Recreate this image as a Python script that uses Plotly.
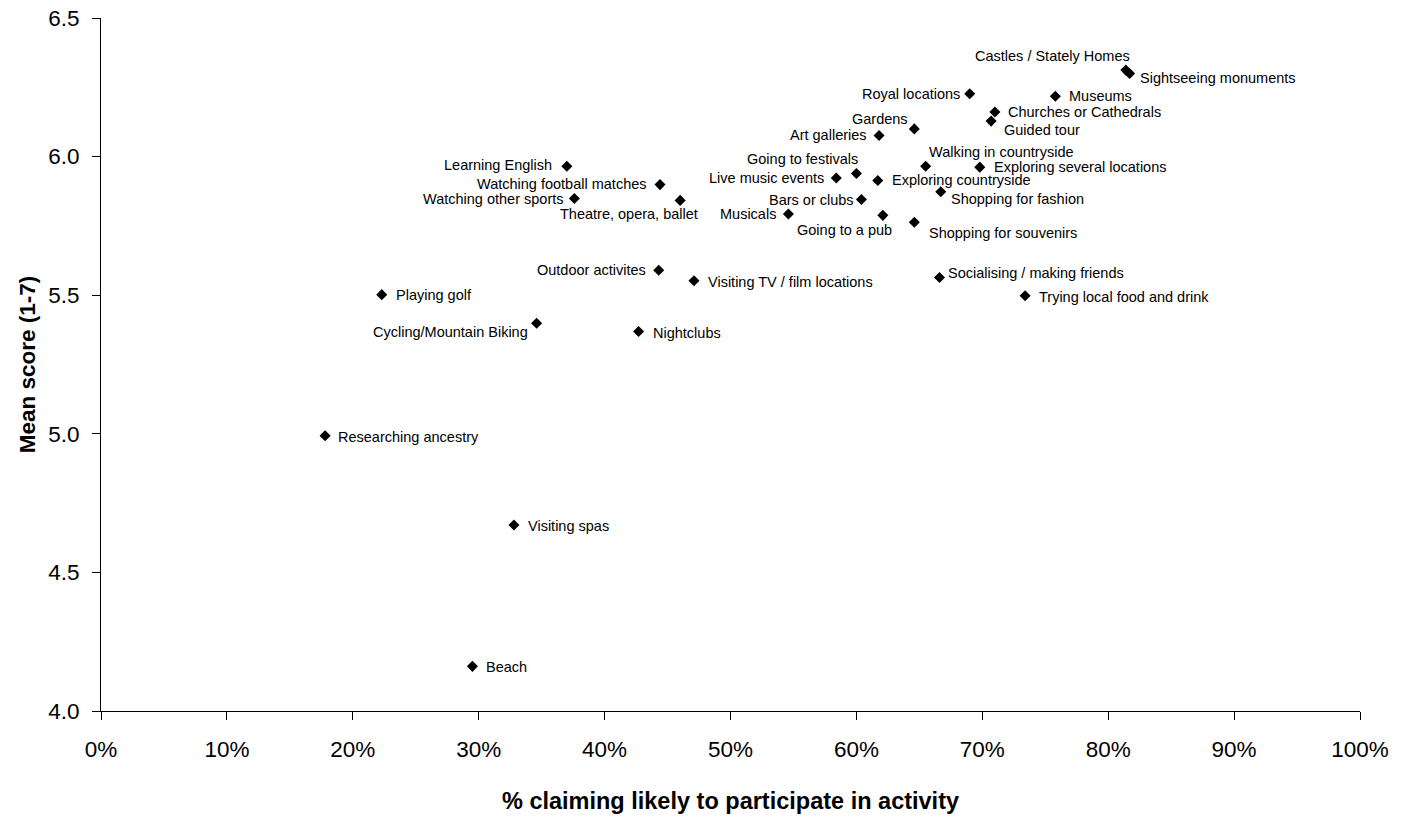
import plotly.graph_objects as go

activities = [
    "Castles / Stately Homes", "Sightseeing monuments", "Royal locations", "Museums",
    "Churches or Cathedrals", "Guided tour", "Gardens", "Art galleries",
    "Walking in countryside", "Exploring several locations", "Going to festivals",
    "Live music events", "Exploring countryside", "Shopping for fashion", "Bars or clubs",
    "Musicals", "Going to a pub", "Shopping for souvenirs", "Learning English",
    "Watching football matches", "Watching other sports", "Theatre, opera, ballet",
    "Outdoor activites", "Visiting TV / film locations", "Playing golf",
    "Cycling/Mountain Biking", "Nightclubs", "Socialising / making friends",
    "Trying local food and drink", "Researching ancestry", "Visiting spas", "Beach",
]
pct_likely = [
    0.814, 0.817, 0.690, 0.758,
    0.710, 0.707, 0.646, 0.618,
    0.655, 0.698, 0.600,
    0.584, 0.617, 0.667, 0.604,
    0.546, 0.621, 0.646, 0.370,
    0.444, 0.376, 0.460,
    0.443, 0.471, 0.223,
    0.346, 0.427, 0.666,
    0.734, 0.178, 0.328, 0.295,
]
mean_score = [
    6.312, 6.300, 6.227, 6.218,
    6.161, 6.128, 6.100, 6.076,
    5.965, 5.962, 5.939,
    5.923, 5.914, 5.873, 5.845,
    5.793, 5.788, 5.763, 5.965,
    5.899, 5.849, 5.842,
    5.590, 5.552, 5.502,
    5.399, 5.369, 5.564,
    5.498, 4.993, 4.671, 4.161,
]

# label placement: (anchor, x offset px, y offset px downwards)
label_pos = [
    ("right", 5, -14), ("left", 9, 5), ("right", -9, 0), ("left", 13, 0),
    ("left", 12, 0), ("left", 12, 9), ("right", -5, -10), ("right", -11, -1),
    ("left", 2, -14), ("left", 13, 0), ("right", 3, -15),
    ("right", -11, 0), ("left", 13, 0), ("left", 9, 7), ("right", -6, 0),
    ("right", -11, 0), ("right", 10, 15), ("left", 14, 11), ("right", -14, -1),
    ("right", -12, -1), ("right", -9, 1), ("right", 19, 14),
    ("right", -12, 0), ("left", 13, 1), ("left", 13, 0),
    ("right", -8, 9), ("left", 13, 1), ("left", 8, -4),
    ("left", 13, 1), ("left", 12, 1), ("left", 13, 1), ("left", 13, 1),
]

x_ticks = [i / 10 for i in range(11)]
y_ticks = [4.0, 4.5, 5.0, 5.5, 6.0, 6.5]

FONT = "Liberation Sans, Arial, sans-serif"

fig = go.Figure()
fig.add_trace(go.Scatter(
    x=pct_likely, y=mean_score, mode="markers",
    marker=dict(symbol="diamond", size=8.5, color="black"),
    hoverinfo="text", text=activities, showlegend=False,
))

for name, xv, yv, (anc, dx, dy) in zip(activities, pct_likely, mean_score, label_pos):
    fig.add_annotation(
        x=xv, y=yv, text=name, showarrow=False,
        xanchor=anc, yanchor="middle", xshift=dx, yshift=-dy,
        font=dict(family=FONT, size=14.5, color="black"),
        borderpad=0,
    )

fig.update_layout(
    width=1407, height=816,
    margin=dict(l=101, r=47, t=18, b=105, autoexpand=False),
    paper_bgcolor="white", plot_bgcolor="white",
    font=dict(family=FONT, color="black"),
)
fig.update_xaxes(
    range=[0, 1], tickvals=x_ticks, tickformat=".0%",
    showline=True, linecolor="black", linewidth=1,
    ticks="outside", ticklen=8, tickcolor="black",
    showgrid=False, zeroline=False, automargin=False,
    tickfont=dict(family=FONT, size=22.5), ticklabelstandoff=10,
    ticklabeloverflow="allow",
    title=dict(text="<b>% claiming likely to participate in activity</b>",
               font=dict(family=FONT, size=23.5), standoff=31),
)
fig.update_yaxes(
    range=[4.0, 6.5], tickvals=y_ticks, tickformat=".1f",
    showline=True, linecolor="black", linewidth=1,
    ticks="outside", ticklen=8, tickcolor="black",
    showgrid=False, zeroline=False, automargin=False,
    tickfont=dict(family=FONT, size=22.5), ticklabelstandoff=8,
    ticklabeloverflow="allow",
    title=dict(text="<b>Mean score (1-7)</b>",
               font=dict(family=FONT, size=22.5), standoff=6),
)

fig.write_html(
    "out.html",
    config={"displayModeBar": False},
    post_script="document.body.style.margin='0';document.body.style.overflow='hidden';",
)
